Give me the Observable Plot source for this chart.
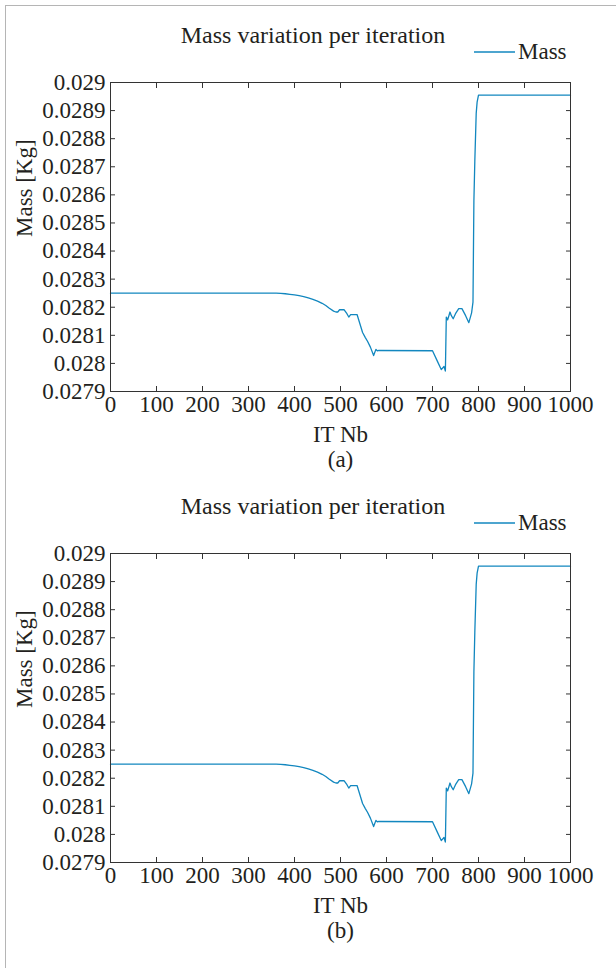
<!DOCTYPE html>
<html>
<head>
<meta charset="utf-8">
<script src="https://cdn.jsdelivr.net/npm/d3@7"></script>
<script src="https://cdn.jsdelivr.net/npm/@observablehq/plot@0.6"></script>
<style>
  html, body { margin: 0; padding: 0; background: #fff; overflow: hidden; }
  body { width: 616px; height: 968px; position: relative; font-family: "Liberation Serif", serif; color: #231f20; }
  #border { position: absolute; left: 5px; top: 5px; width: 660px; height: 1000px; border: 1px solid #b5b5b5; box-sizing: border-box; }
  .panel { position: absolute; left: 0; width: 616px; height: 471px; }
  .title { position: absolute; left: 0; width: 626px; text-align: center; top: 22px; font-size: 24px; white-space: nowrap; }
  .legend { position: absolute; left: 474px; top: 39px; font-size: 23px; display: flex; align-items: center; white-space: nowrap; }
  .legend svg { display: block; margin-right: 3px; }
  .panel > svg.plot { position: absolute; left: 0; top: 0; }
</style>
</head>
<body>
<div id="border"></div>
<div id="charts"></div>
<script>
// Data
const itNb = [0, 350, 360, 370, 380, 390, 400, 410, 420, 430, 440, 450, 460, 468, 475, 485, 490, 494, 498, 508, 514, 518, 522, 536, 548, 554, 559, 565, 572, 577, 580, 583, 700, 710, 719, 725, 728, 730, 733, 738, 741, 745, 750, 757, 764, 772, 779, 785, 788, 790, 792, 795, 797, 800, 1000];
const mass = [0.02825, 0.02825, 0.02825, 0.028249, 0.028248, 0.028246, 0.028244, 0.028241, 0.028238, 0.028233, 0.028228, 0.028222, 0.028214, 0.028206, 0.028197, 0.028186, 0.028183, 0.028183, 0.028191, 0.028191, 0.028177, 0.028165, 0.028174, 0.028174, 0.02811, 0.028092, 0.028078, 0.028058, 0.028028, 0.02805, 0.028045, 0.028046, 0.028045, 0.02801, 0.027978, 0.027989, 0.027973, 0.028165, 0.028155, 0.028183, 0.02817, 0.028159, 0.028177, 0.028195, 0.028195, 0.02817, 0.028145, 0.02818, 0.028218, 0.02858, 0.02872, 0.02889, 0.02893, 0.028955, 0.028955];
const xTicks = [0, 100, 200, 300, 400, 500, 600, 700, 800, 900, 1000];
const xTickLabels = ["0", "100", "200", "300", "400", "500", "600", "700", "800", "900", "1000"];
const yTicks = [0.0279, 0.028, 0.0281, 0.0282, 0.0283, 0.0284, 0.0285, 0.0286, 0.0287, 0.0288, 0.0289, 0.029];
const yTickLabels = ["0.0279", "0.028", "0.0281", "0.0282", "0.0283", "0.0284", "0.0285", "0.0286", "0.0287", "0.0288", "0.0289", "0.029"];
const panelLabels = ["(a)", "(b)"];
const titleText = "Mass variation per iteration";
const legendText = "Mass";
const xLabel = "IT Nb";
const yLabel = "Mass [Kg]";

const data = itNb.map((x, i) => ({x, y: mass[i]}));
const lineColor = "#1287bf";
const axisColor = "#333";
const textColor = "#231f20";
const fs = 23;

const charts = document.getElementById("charts");
panelLabels.forEach((lab, k) => {
  const panel = document.createElement("div");
  panel.className = "panel";
  panel.style.top = (k * 471) + "px";

  const chart = Plot.plot({
    width: 616,
    height: 471,
    marginLeft: 110,
    marginRight: 46,
    marginTop: 82,
    marginBottom: 80,
    style: {fontFamily: "Liberation Serif", fontSize: fs + "px", color: textColor, background: "transparent", overflow: "visible"},
    x: {domain: [0, 1000], ticks: xTicks},
    y: {domain: [0.0279, 0.029], ticks: yTicks},
    marks: [
      Plot.line(data, {x: "x", y: "y", stroke: lineColor, strokeWidth: 1.3}),
      Plot.frame({stroke: axisColor, strokeWidth: 1}),
      // inward ticks on four sides
      Plot.axisX({anchor: "bottom", ticks: xTicks, tickSize: -5, tickFormat: () => "", stroke: axisColor, label: null}),
      Plot.axisX({anchor: "top", ticks: xTicks, tickSize: -5, tickFormat: () => "", stroke: axisColor, label: null}),
      Plot.axisY({anchor: "left", ticks: yTicks, tickSize: -5, tickFormat: () => "", stroke: axisColor, label: null}),
      Plot.axisY({anchor: "right", ticks: yTicks, tickSize: -5, tickFormat: () => "", stroke: axisColor, label: null}),
      // tick labels
      Plot.axisX({anchor: "bottom", ticks: xTicks, tickSize: 0, tickPadding: 4, fontSize: fs, fill: textColor, label: null,
        tickFormat: d => xTickLabels[xTicks.indexOf(d)]}),
      Plot.axisY({anchor: "left", ticks: yTicks, tickSize: 0, tickPadding: 5, fontSize: fs, fill: textColor, label: null,
        tickFormat: d => yTickLabels[yTicks.indexOf(d)]}),
      // axis labels and panel caption
      Plot.text([xLabel], {frameAnchor: "bottom", dy: 50, fontSize: fs, fill: textColor}),
      Plot.text([lab], {frameAnchor: "bottom", dy: 75, fontSize: fs, fill: textColor}),
      Plot.text([yLabel], {frameAnchor: "left", dx: -86, rotate: -90, fontSize: fs, fill: textColor})
    ]
  });
  chart.classList.add("plot");
  panel.appendChild(chart);

  const t = document.createElement("div");
  t.className = "title";
  t.textContent = titleText;
  panel.appendChild(t);

  const lg = document.createElement("div");
  lg.className = "legend";
  lg.innerHTML = `<svg width="41" height="4"><line x1="0" x2="41" y1="2" y2="2" stroke="${lineColor}" stroke-width="1.3"/></svg><span>${legendText}</span>`;
  panel.appendChild(lg);

  charts.appendChild(panel);
});
</script>
</body>
</html>
